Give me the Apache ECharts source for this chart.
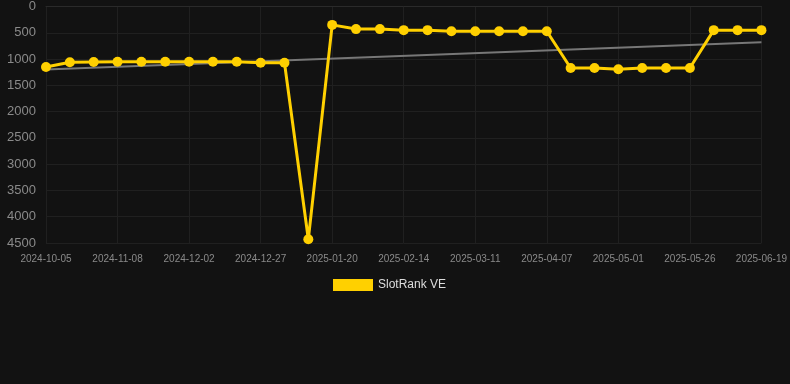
<!DOCTYPE html>
<html>
<head>
<meta charset="utf-8">
<script src="https://cdn.jsdelivr.net/npm/echarts@6/dist/echarts.min.js"></script>
<style>html,body{margin:0;padding:0;background:#121212;}#c{width:790px;height:384px;}</style>
</head>
<body>
<div id="c"></div>
<script>
const categories = [
  '2024-10-05','2024-10-16','2024-10-27','2024-11-08','2024-11-16','2024-11-24',
  '2024-12-02','2024-12-10','2024-12-18','2024-12-27','2025-01-04','2025-01-12',
  '2025-01-20','2025-01-28','2025-02-05','2025-02-14','2025-02-22','2025-03-02',
  '2025-03-11','2025-03-20','2025-03-29','2025-04-07','2025-04-15','2025-04-23',
  '2025-05-01','2025-05-09','2025-05-17','2025-05-26','2025-06-03','2025-06-11',
  '2025-06-19'
];
const rankValues = [
  1150, 1060, 1055, 1050, 1050, 1050, 1050, 1050, 1050, 1070, 1070, 4430,
  350, 430, 430, 450, 450, 470, 470, 470, 470, 470, 1170, 1170,
  1195, 1170, 1170, 1170, 450, 450, 450
];
const trendValues = [['2024-10-05', 1200], ['2025-06-19', 680]];
const yTicks = [0, 500, 1000, 1500, 2000, 2500, 3000, 3500, 4000, 4500];

const chart = echarts.init(document.getElementById('c'));
chart.setOption({
  backgroundColor: '#121212',
  animation: false,
  grid: { left: 46, right: 28, top: 6, bottom: 141, containLabel: false },
  legend: {
    data: ['SlotRank VE'],
    top: 274,
    left: 328,
    itemWidth: 40,
    itemHeight: 12,
    icon: 'rect',
    textStyle: { color: '#dddddd', fontSize: 12, fontFamily: 'Liberation Sans, Arial, sans-serif' }
  },
  xAxis: {
    type: 'category',
    data: categories,
    boundaryGap: false,
    axisLine: { show: true, lineStyle: { color: '#2a2a2a' } },
    axisTick: { show: false },
    axisLabel: {
      interval: 2,
      color: '#8a8a8a',
      fontSize: 10,
      margin: 11,
      fontFamily: 'Liberation Sans, Arial, sans-serif'
    },
    splitLine: { show: true, interval: 2, lineStyle: { color: '#202020', width: 1 } }
  },
  yAxis: {
    type: 'value',
    inverse: true,
    min: yTicks[0],
    max: yTicks[yTicks.length - 1],
    interval: 500,
    axisLine: { show: false },
    axisTick: { show: false },
    axisLabel: {
      color: '#8a8a8a',
      fontSize: 13,
      margin: 10,
      formatter: function (v) { return String(v); },
      fontFamily: 'Liberation Sans, Arial, sans-serif'
    },
    splitLine: { show: true, lineStyle: { color: '#202020', width: 1 } }
  },
  series: [
    {
      name: 'Trend',
      type: 'line',
      data: trendValues,
      symbol: 'none',
      lineStyle: { color: '#777777', width: 2 },
      z: 1,
      silent: true
    },
    {
      name: 'SlotRank VE',
      type: 'line',
      data: rankValues,
      symbol: 'circle',
      symbolSize: 10,
      itemStyle: { color: '#ffd000' },
      lineStyle: { color: '#ffd000', width: 3 },
      z: 3
    }
  ]
});
</script>
</body>
</html>
